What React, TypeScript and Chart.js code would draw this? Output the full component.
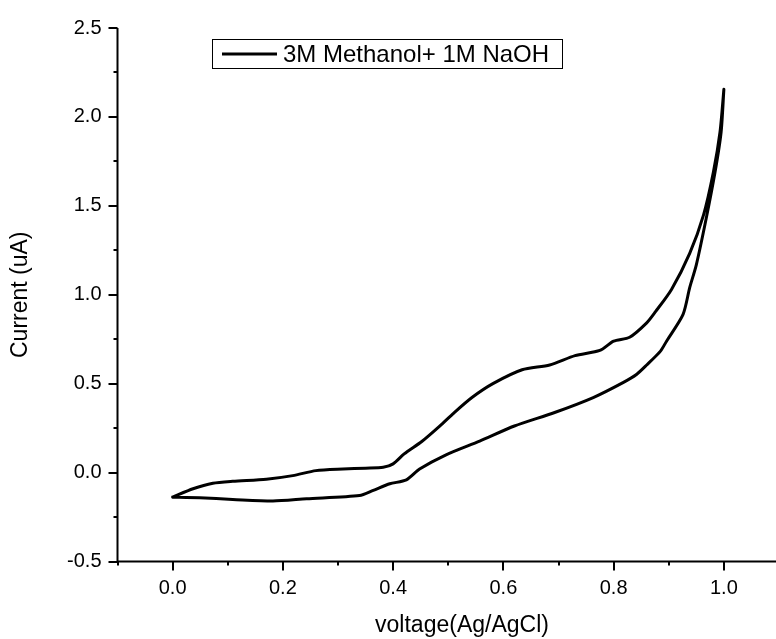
import React, { useEffect, useRef } from "react";
import { Chart, registerables } from "chart.js";

Chart.register(...registerables);

// Forward (upper) branch: voltage (V vs Ag/AgCl) and current (uA)
const forwardV = [0.0, 0.037, 0.073, 0.109, 0.17, 0.218, 0.26, 0.309, 0.35, 0.382, 0.4, 0.42, 0.452, 0.485, 0.51, 0.543, 0.581, 0.634, 0.684, 0.73, 0.775, 0.8, 0.829, 0.86, 0.876, 0.905, 0.938, 0.963, 0.981, 0.993, 1.0];
const forwardI = [-0.138, -0.091, -0.06, -0.049, -0.037, -0.017, 0.011, 0.02, 0.025, 0.03, 0.049, 0.105, 0.175, 0.263, 0.335, 0.422, 0.5, 0.578, 0.605, 0.658, 0.687, 0.739, 0.761, 0.842, 0.905, 1.03, 1.233, 1.448, 1.69, 1.915, 2.155];

// Reverse (lower) branch
const reverseV = [1.0, 0.995, 0.984, 0.968, 0.95, 0.938, 0.926, 0.896, 0.885, 0.86, 0.842, 0.817, 0.763, 0.693, 0.62, 0.557, 0.496, 0.448, 0.424, 0.394, 0.364, 0.339, 0.243, 0.182, 0.109, 0.049, 0.0];
const reverseI = [2.155, 1.915, 1.69, 1.43, 1.168, 1.04, 0.89, 0.739, 0.683, 0.605, 0.553, 0.506, 0.422, 0.338, 0.262, 0.177, 0.1, 0.02, -0.041, -0.063, -0.1, -0.129, -0.147, -0.16, -0.151, -0.142, -0.138];

const seriesLabel = "3M Methanol+ 1M NaOH";
const xTickLabels = ["0.0", "0.2", "0.4", "0.6", "0.8", "1.0"];
const yTickLabels = ["-0.5", "0.0", "0.5", "1.0", "1.5", "2.0", "2.5"];
const xTitle = "voltage(Ag/AgCl)";
const yTitle = "Current (uA)";

const FONT = "Arial, 'Liberation Sans', sans-serif";

const axesPlugin = {
  id: "originAxes",
  afterDraw(chart: any) {
    const { ctx, chartArea, scales } = chart;
    const x = scales.x;
    const y = scales.y;
    ctx.save();
    ctx.strokeStyle = "#000";
    ctx.lineWidth = 2;
    ctx.lineCap = "butt";
    ctx.beginPath();
    ctx.moveTo(chartArea.left, chartArea.bottom);
    ctx.lineTo(chartArea.right, chartArea.bottom);
    ctx.moveTo(chartArea.left, chartArea.bottom + 1);
    ctx.lineTo(chartArea.left, chartArea.top);
    ctx.stroke();
    ctx.beginPath();
    x.ticks.forEach((t: any) => {
      const px = Math.round(x.getPixelForValue(t.value));
      const major = Math.round(t.value * 10) % 2 === 0;
      ctx.moveTo(px, chartArea.bottom);
      ctx.lineTo(px, chartArea.bottom + (major ? 9 : 4));
    });
    y.ticks.forEach((t: any) => {
      const py = Math.round(y.getPixelForValue(t.value));
      const major = Math.round(t.value * 4) % 2 === 0;
      ctx.moveTo(chartArea.left, py);
      ctx.lineTo(chartArea.left - (major ? 9 : 4), py);
    });
    ctx.stroke();

    // x-axis title
    ctx.fillStyle = "#000";
    ctx.font = `23px ${FONT}`;
    ctx.textAlign = "center";
    ctx.textBaseline = "middle";
    ctx.fillText(xTitle, 462, 626);

    // legend box
    const bx = 212.5, by = 39.5, bw = 350, bh = 29;
    ctx.lineWidth = 1;
    ctx.strokeRect(bx, by, bw, bh);
    ctx.lineWidth = 3;
    ctx.beginPath();
    ctx.moveTo(222, 54);
    ctx.lineTo(277, 54);
    ctx.stroke();
    ctx.font = `24px ${FONT}`;
    ctx.textBaseline = "middle";
    ctx.textAlign = "left";
    ctx.fillText(chart.data.datasets[0].label, 283, 55);
    ctx.restore();
  },
};

export default function App() {
  const ref = useRef<HTMLCanvasElement | null>(null);
  useEffect(() => {
    if (!ref.current) return;
    const pts = [
      ...forwardV.map((v, i) => ({ x: v, y: forwardI[i] })),
      ...reverseV.map((v, i) => ({ x: v, y: reverseI[i] })),
    ];
    const chart = new Chart(ref.current, {
      type: "scatter",
      data: {
        datasets: [
          {
            label: seriesLabel,
            data: pts,
            showLine: true,
            borderColor: "#000",
            backgroundColor: "#000",
            borderWidth: 3,
            pointRadius: 0,
            tension: 0.25,
            fill: false,
            borderJoinStyle: "round",
            borderCapStyle: "round",
          } as any,
        ],
      },
      options: {
        responsive: false,
        animation: false,
        events: [],
        layout: { padding: { top: 25, right: 21, left: 0, bottom: 0 } },
        plugins: { legend: { display: false }, tooltip: { enabled: false } },
        scales: {
          x: {
            type: "linear",
            min: -0.1,
            max: 1.1,
            grid: { display: false, drawTicks: false },
            border: { display: false },
            ticks: {
              stepSize: 0.1,
              autoSkip: false,
              maxRotation: 0,
              padding: 15,
              color: "#000",
              font: { family: FONT, size: 20 },
              callback: (v: any) => {
                const s = Number(v).toFixed(1);
                return xTickLabels.includes(s) && Math.round(Number(v) * 10) % 2 === 0 ? s : "";
              },
            },
            title: { display: false },
            afterFit: (s: any) => {
              s.height = 77.5;
            },
          },
          y: {
            type: "linear",
            min: -0.5,
            max: 2.5,
            grid: { display: false, drawTicks: false },
            border: { display: false },
            ticks: {
              stepSize: 0.25,
              autoSkip: false,
              padding: 16,
              color: "#000",
              font: { family: FONT, size: 20 },
              callback: (v: any) => {
                const s = Number(v).toFixed(1);
                return Math.round(Number(v) * 4) % 2 === 0 && yTickLabels.includes(s) ? s : "";
              },
            },
            title: {
              display: true,
              text: yTitle,
              color: "#000",
              font: { family: FONT, size: 23 },
              padding: { top: 7, bottom: 0 },
            },
            afterFit: (s: any) => {
              s.width = 117.5;
            },
          },
        },
      },
      plugins: [axesPlugin],
    });
    return () => chart.destroy();
  }, []);
  return (
    <div style={{ position: "absolute", left: 0, top: 0, width: 776, height: 639, overflow: "hidden", background: "#fff" }}>
      <canvas ref={ref} width={800} height={639} style={{ display: "block" }} />
    </div>
  );
}
